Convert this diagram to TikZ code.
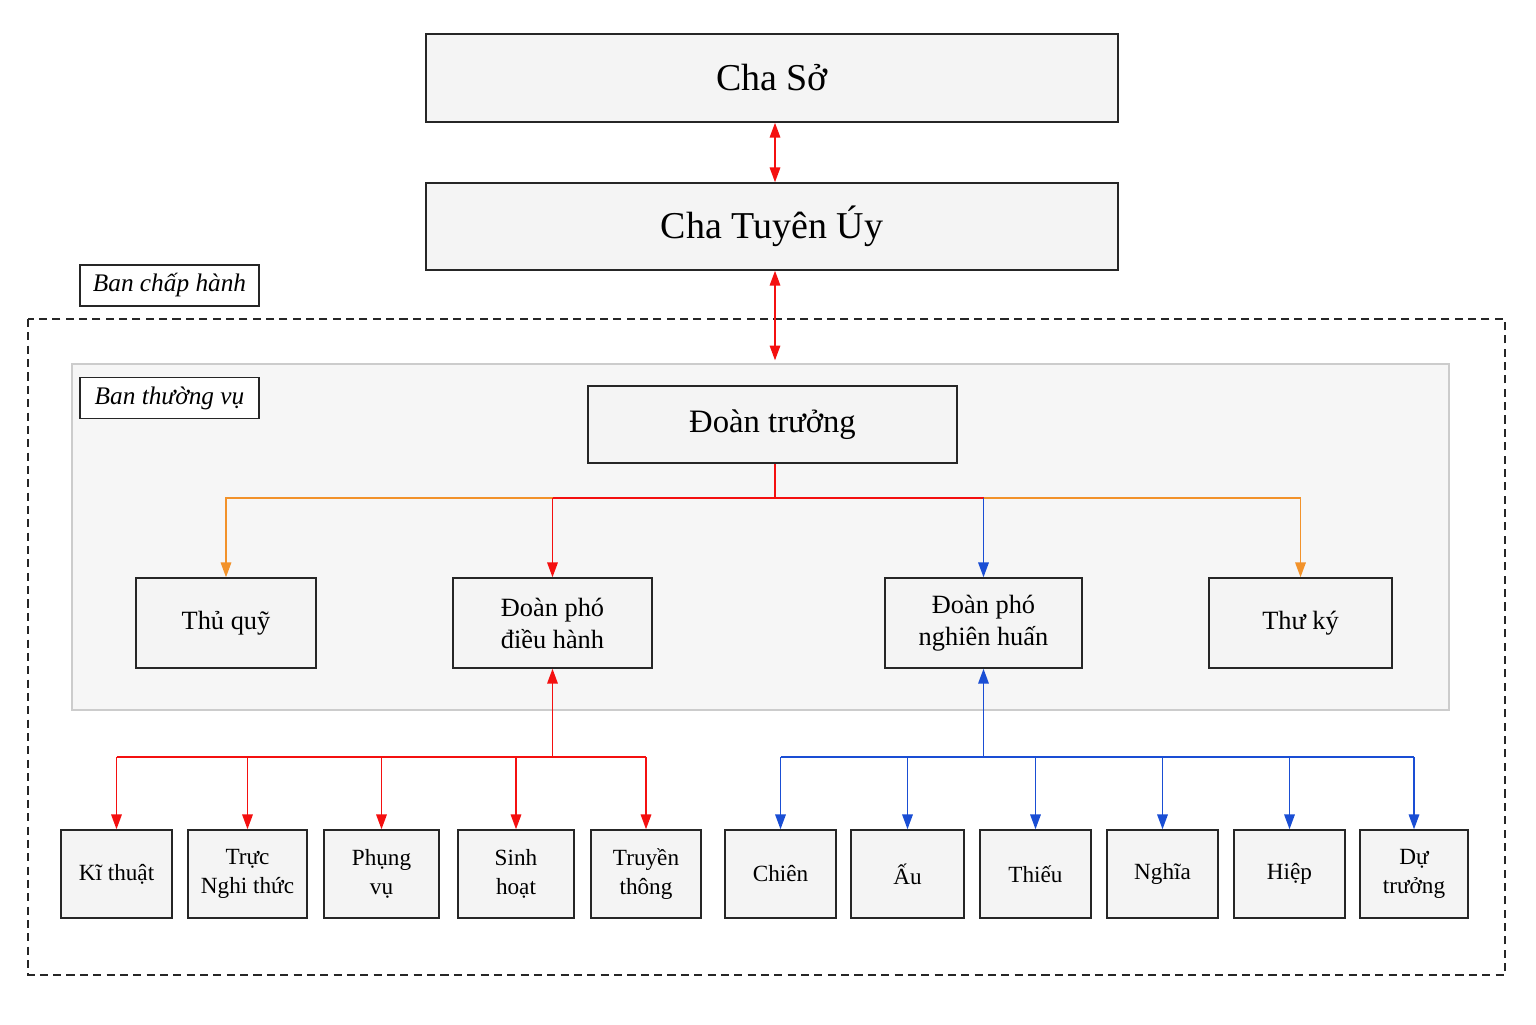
\documentclass[tikz,border=0pt]{standalone}
\usepackage{fontspec}
\setmainfont{Liberation Serif}
\usetikzlibrary{arrows.meta, positioning, calc}
\definecolor{boxgray}{HTML}{F4F4F4}
\definecolor{areagray}{HTML}{F6F6F6}
\definecolor{arred}{HTML}{F41010}
\definecolor{arorange}{HTML}{F2922A}
\definecolor{arblue}{HTML}{1A4ED4}

\begin{document}
\begin{tikzpicture}[
  box/.style={draw=black!85, fill=boxgray, line width=0.45pt, inner sep=0pt, align=center},
  tag/.style={draw=black!85, fill=white, line width=0.45pt, inner sep=0pt,
    minimum width=1.79cm, minimum height=0.41cm, font=\fontsize{7.2}{8.6}\selectfont\itshape},
  midbox/.style={box, minimum height=0.90cm, font=\fontsize{7.5}{9.1}\selectfont},
  lowbox/.style={box, minimum height=0.88cm, font=\fontsize{6.6}{8.2}\selectfont},
  tip/.style={-{Triangle[length=4.2pt,width=3pt]}},
  link/.style={line width=0.4pt}
]
  % page
  \fill[white] (0,0) rectangle (15.36,-10.24);
  \useasboundingbox (0,0) rectangle (15.36,-10.24);

  % Areas
  \draw[black!85, line width=0.4pt, dash pattern=on 2.3pt off 1.5pt] (0.28,-3.19) rectangle (15.05,-9.75);
  \node[draw=black!20, fill=areagray, line width=0.4pt, minimum width=13.77cm, minimum height=3.46cm,
    inner sep=0pt] (btvarea) at (7.605,-5.37) {};
  \node[tag] (bch) at (1.695,-2.855) {Ban chấp hành};
  \node[tag] (btv) at (1.695,-3.98) {Ban thường vụ};

  % Top
  \node[box, minimum width=6.92cm, minimum height=0.88cm, font=\fontsize{10.8}{13}\selectfont] (chaso) at (7.72,-0.78) {Cha Sở};
  \node[box, minimum width=6.92cm, minimum height=0.87cm, font=\fontsize{10.8}{13}\selectfont] (chatuyenuy) at (7.72,-2.265) {Cha Tuyên Úy};
  \node[box, minimum width=3.69cm, minimum height=0.77cm, font=\fontsize{9.3}{11}\selectfont] (doantruong) at (7.725,-4.245) {Đoàn trưởng};

  % Ban thuong vu
  \node[midbox, minimum width=1.80cm] (thuquy) at (2.26,-6.23) {Thủ quỹ};
  \node[midbox, minimum width=1.99cm] (dpdh) at (5.525,-6.23) {Đoàn phó\\điều hành};
  \node[midbox, minimum width=1.97cm] (dpnh) at (9.835,-6.23) {Đoàn phó\\nghiên huấn};
  \node[midbox, minimum width=1.83cm] (thuky) at (13.005,-6.23) {Thư ký};

  % Lower row
  \node[lowbox, minimum width=1.11cm] (kithuat) at (1.165,-8.74) {Kĩ thuật};
  \node[lowbox, minimum width=1.19cm] (nghithuc) at (2.475,-8.74) {Trực\\Nghi thức};
  \node[lowbox, minimum width=1.15cm] (phungvu) at (3.815,-8.74) {Phụng\\vụ};
  \node[lowbox, minimum width=1.16cm] (sinhhoat) at (5.16,-8.74) {Sinh\\hoạt};
  \node[lowbox, minimum width=1.10cm] (truyenthong) at (6.46,-8.74) {Truyền\\thông};
  \node[lowbox, minimum width=1.11cm] (chien) at (7.805,-8.74) {Chiên};
  \node[lowbox, minimum width=1.13cm] (au) at (9.075,-8.74) {Ấu};
  \node[lowbox, minimum width=1.11cm] (thieu) at (10.355,-8.74) {Thiếu};
  \node[lowbox, minimum width=1.11cm] (nghia) at (11.625,-8.74) {Nghĩa};
  \node[lowbox, minimum width=1.11cm] (hiep) at (12.895,-8.74) {Hiệp};
  \node[lowbox, minimum width=1.08cm] (dutruong) at (14.14,-8.74) {Dự\\trưởng};

  % Connectors
  \coordinate (topbus) at (7.75,-4.98);
  \coordinate (redbus) at (5.525,-7.57);
  \coordinate (bluebus) at (9.835,-7.57);
  \draw[link, arred, {Triangle[length=4.2pt,width=3pt]}-{Triangle[length=4.2pt,width=3pt]}]
    (chaso.south -| topbus) -- (chatuyenuy.north -| topbus);
  \draw[link, arred, {Triangle[length=4.2pt,width=3pt]}-{Triangle[length=4.2pt,width=3pt]}]
    (chatuyenuy.south -| topbus) -- ($(btvarea.north -| topbus)+(0,0.03)$);
  \draw[link, arorange, tip] (dpdh.north |- topbus) -| (thuquy.north);
  \draw[link, arorange, tip] (dpnh.north |- topbus) -| (thuky.north);
  \draw[link, arred] (doantruong.south -| topbus) -- (topbus);
  \draw[link, arred] (dpdh.north |- topbus) -- (dpnh.north |- topbus);
  \draw[link, arred, tip] (dpdh.north |- topbus) -- (dpdh.north);
  \draw[link, arblue, tip] (dpnh.north |- topbus) -- (dpnh.north);

  % Doan pho dieu hanh
  \draw[link, arred, tip] (redbus) -- (dpdh.south);
  \draw[link, arred] (kithuat.north |- redbus) -- (truyenthong.north |- redbus);
  \foreach \n in {kithuat, nghithuc, phungvu, sinhhoat, truyenthong}
    \draw[link, arred, tip] (\n.north |- redbus) -- (\n.north);
  % Doan pho nghien huan
  \draw[link, arblue, tip] (bluebus) -- (dpnh.south);
  \draw[link, arblue] (chien.north |- bluebus) -- (dutruong.north |- bluebus);
  \foreach \n in {chien, au, thieu, nghia, hiep, dutruong}
    \draw[link, arblue, tip] (\n.north |- bluebus) -- (\n.north);
\end{tikzpicture}
\end{document}
